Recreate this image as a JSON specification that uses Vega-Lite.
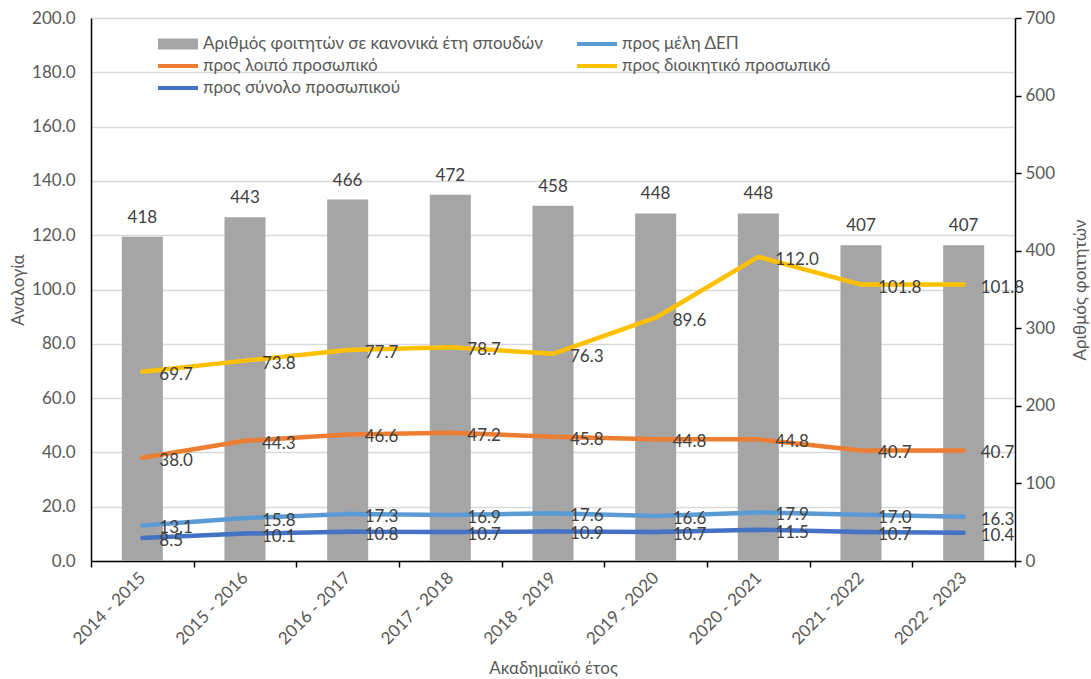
{
  "$schema": "https://vega.github.io/schema/vega-lite/v6.json",
  "autosize": "none",
  "width": 924,
  "height": 543,
  "padding": {"left": 91, "top": 18, "right": 76, "bottom": 118},
  "background": "white",
  "config": {
    "view": {"stroke": null},
    "font": "Lato",
    "axis": {"labelFont": "Lato", "titleFont": "Lato", "labelColor": "#595959", "titleColor": "#595959", "labelFontSize": 17, "titleFontSize": 17, "titleFontWeight": "normal"},
    "legend": {"labelFont": "Lato"}
  },
  "datasets": {
    "students": [
      {"year": "2014 - 2015", "series": "Αριθμός φοιτητών σε κανονικά έτη σπουδών", "students": 418},
      {"year": "2015 - 2016", "series": "Αριθμός φοιτητών σε κανονικά έτη σπουδών", "students": 443},
      {"year": "2016 - 2017", "series": "Αριθμός φοιτητών σε κανονικά έτη σπουδών", "students": 466},
      {"year": "2017 - 2018", "series": "Αριθμός φοιτητών σε κανονικά έτη σπουδών", "students": 472},
      {"year": "2018 - 2019", "series": "Αριθμός φοιτητών σε κανονικά έτη σπουδών", "students": 458},
      {"year": "2019 - 2020", "series": "Αριθμός φοιτητών σε κανονικά έτη σπουδών", "students": 448},
      {"year": "2020 - 2021", "series": "Αριθμός φοιτητών σε κανονικά έτη σπουδών", "students": 448},
      {"year": "2021 - 2022", "series": "Αριθμός φοιτητών σε κανονικά έτη σπουδών", "students": 407},
      {"year": "2022 - 2023", "series": "Αριθμός φοιτητών σε κανονικά έτη σπουδών", "students": 407}
    ],
    "ratios": [
      {"year": "2014 - 2015", "series": "προς μέλη ΔΕΠ", "value": 13.1},
      {"year": "2015 - 2016", "series": "προς μέλη ΔΕΠ", "value": 15.8},
      {"year": "2016 - 2017", "series": "προς μέλη ΔΕΠ", "value": 17.3},
      {"year": "2017 - 2018", "series": "προς μέλη ΔΕΠ", "value": 16.9},
      {"year": "2018 - 2019", "series": "προς μέλη ΔΕΠ", "value": 17.6},
      {"year": "2019 - 2020", "series": "προς μέλη ΔΕΠ", "value": 16.6},
      {"year": "2020 - 2021", "series": "προς μέλη ΔΕΠ", "value": 17.9},
      {"year": "2021 - 2022", "series": "προς μέλη ΔΕΠ", "value": 17.0},
      {"year": "2022 - 2023", "series": "προς μέλη ΔΕΠ", "value": 16.3},
      {"year": "2014 - 2015", "series": "προς λοιπό προσωπικό", "value": 38.0},
      {"year": "2015 - 2016", "series": "προς λοιπό προσωπικό", "value": 44.3},
      {"year": "2016 - 2017", "series": "προς λοιπό προσωπικό", "value": 46.6},
      {"year": "2017 - 2018", "series": "προς λοιπό προσωπικό", "value": 47.2},
      {"year": "2018 - 2019", "series": "προς λοιπό προσωπικό", "value": 45.8},
      {"year": "2019 - 2020", "series": "προς λοιπό προσωπικό", "value": 44.8},
      {"year": "2020 - 2021", "series": "προς λοιπό προσωπικό", "value": 44.8},
      {"year": "2021 - 2022", "series": "προς λοιπό προσωπικό", "value": 40.7},
      {"year": "2022 - 2023", "series": "προς λοιπό προσωπικό", "value": 40.7},
      {"year": "2014 - 2015", "series": "προς διοικητικό προσωπικό", "value": 69.7},
      {"year": "2015 - 2016", "series": "προς διοικητικό προσωπικό", "value": 73.8},
      {"year": "2016 - 2017", "series": "προς διοικητικό προσωπικό", "value": 77.7},
      {"year": "2017 - 2018", "series": "προς διοικητικό προσωπικό", "value": 78.7},
      {"year": "2018 - 2019", "series": "προς διοικητικό προσωπικό", "value": 76.3},
      {"year": "2019 - 2020", "series": "προς διοικητικό προσωπικό", "value": 89.6},
      {"year": "2020 - 2021", "series": "προς διοικητικό προσωπικό", "value": 112.0},
      {"year": "2021 - 2022", "series": "προς διοικητικό προσωπικό", "value": 101.8},
      {"year": "2022 - 2023", "series": "προς διοικητικό προσωπικό", "value": 101.8},
      {"year": "2014 - 2015", "series": "προς σύνολο προσωπικού", "value": 8.5},
      {"year": "2015 - 2016", "series": "προς σύνολο προσωπικού", "value": 10.1},
      {"year": "2016 - 2017", "series": "προς σύνολο προσωπικού", "value": 10.8},
      {"year": "2017 - 2018", "series": "προς σύνολο προσωπικού", "value": 10.7},
      {"year": "2018 - 2019", "series": "προς σύνολο προσωπικού", "value": 10.9},
      {"year": "2019 - 2020", "series": "προς σύνολο προσωπικού", "value": 10.7},
      {"year": "2020 - 2021", "series": "προς σύνολο προσωπικού", "value": 11.5},
      {"year": "2021 - 2022", "series": "προς σύνολο προσωπικού", "value": 10.7},
      {"year": "2022 - 2023", "series": "προς σύνολο προσωπικού", "value": 10.4}
    ]
  },
  "encoding": {
    "x": {
      "field": "year", "type": "nominal", "sort": null,
      "scale": {"type": "band", "paddingInner": 0, "paddingOuter": 0},
      "axis": {
        "title": "Ακαδημαϊκό έτος",
        "labelAngle": -45, "labelAlign": "right", "labelBaseline": "middle", "labelPadding": 8,
        "tickBand": "extent", "tickSize": 6, "tickColor": "black", "domainColor": "black", "domainWidth": 1.5, "tickWidth": 1.5,
        "titleX": 462, "titleY": 107, "titleBaseline": "middle", "titleAnchor": "middle"
      }
    }
  },
  "layer": [
    {
      "data": {"name": "students"},
      "encoding": {
        "y": {
          "field": "students", "type": "quantitative",
          "scale": {"domain": [0, 700], "nice": false},
          "axis": {
            "orient": "right", "title": "Αριθμός φοιτητών", "values": [0, 100, 200, 300, 400, 500, 600, 700], "format": "d",
            "grid": false, "tickSize": 6, "tickColor": "black", "domainColor": "black", "domainWidth": 1.5, "tickWidth": 1.5,
            "labelPadding": 4, "titleAngle": -90, "titleX": 65, "titleY": 271.5, "titleBaseline": "middle", "titleAnchor": "middle"
          }
        }
      },
      "layer": [
        {
          "mark": {"type": "bar", "width": {"band": 0.4}},
          "encoding": {
            "color": {
              "field": "series", "type": "nominal",
              "scale": {
                "domain": ["Αριθμός φοιτητών σε κανονικά έτη σπουδών", "προς λοιπό προσωπικό", "προς σύνολο προσωπικού", "προς μέλη ΔΕΠ", "προς διοικητικό προσωπικό"],
                "range": ["#A5A5A5", "#ED7D31", "#4472C4", "#5B9BD5", "#FFC000"]
              },
              "legend": {
                "title": null, "orient": "none", "legendX": 77, "legendY": 16, "columns": 2, "columnPadding": 34, "rowPadding": 4,
                "padding": 0, "labelFontSize": 17, "labelColor": "#595959", "labelOffset": 15,
                "symbolType": "M-2,-0.2H2V0.2H-2Z", "symbolSize": 400, "symbolStrokeWidth": 0,
                "labelLimit": 500,
                "encode": {
                  "symbols": {
                    "update": {
                      "shape": {"signal": "datum.value === 'Αριθμός φοιτητών σε κανονικά έτη σπουδών' ? 'M-2,-0.55H2V0.55H-2Z' : 'M-2,-0.2H2V0.2H-2Z'"},
                      "fill": {"scale": "color", "field": "value"},
                      "strokeWidth": {"value": 0},
                      "opacity": {"value": 1},
                      "fillOpacity": {"value": 1}
                    }
                  }
                }
              }
            }
          }
        },
        {
          "mark": {"type": "text", "baseline": "alphabetic", "align": "center", "dy": -14, "fontSize": 17, "color": "#404040", "font": "Lato"},
          "encoding": {"text": {"field": "students", "type": "quantitative", "format": "d"}}
        }
      ]
    },
    {
      "data": {"name": "ratios"},
      "encoding": {
        "y": {
          "field": "value", "type": "quantitative",
          "scale": {"domain": [0, 200], "nice": false},
          "axis": {
            "orient": "left", "title": "Αναλογία", "values": [0, 20, 40, 60, 80, 100, 120, 140, 160, 180, 200], "format": ".1f",
            "grid": true, "gridColor": "#D9D9D9", "gridWidth": 1.5, "ticks": false, "domainColor": "black", "domainWidth": 1.5,
            "labelPadding": 16, "titleAngle": -90, "titleX": -73, "titleY": 271.5, "titleBaseline": "middle", "titleAnchor": "middle"
          }
        }
      },
      "layer": [
        {
          "mark": {"type": "line", "strokeWidth": 4.5, "strokeCap": "round", "strokeJoin": "round"},
          "encoding": {
            "color": {"field": "series", "type": "nominal"},
            "detail": {"field": "series"}
          }
        },
        {
          "mark": {"type": "text", "align": "left", "baseline": "middle", "dx": 17, "dy": 3, "fontSize": 17, "color": "#404040", "font": "Lato"},
          "encoding": {"text": {"field": "value", "type": "quantitative", "format": ".1f"}}
        }
      ]
    }
  ],
  "resolve": {"scale": {"y": "independent"}}
}
